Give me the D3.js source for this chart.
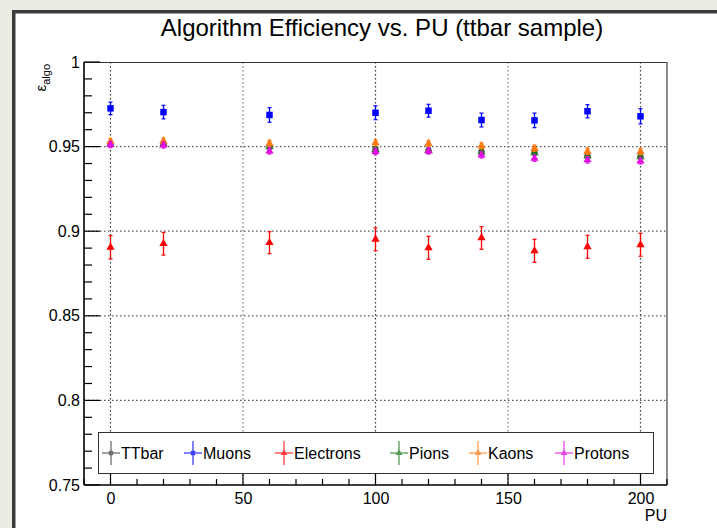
<!DOCTYPE html>
<html>
<head>
<meta charset="utf-8">
<script src="https://cdn.jsdelivr.net/npm/d3@7"></script>
<style>
  body { margin: 0; background: #ffffff; }
  svg { display: block; font-family: "Liberation Sans", Arial, Helvetica, sans-serif; }
</style>
</head>
<body>
<div class="row"></div>
<script>
// Data
var pu = [0, 20, 60, 100, 120, 140, 160, 180, 200];

var ttbar     = [0.9520, 0.9518, 0.9503, 0.9487, 0.9478, 0.9472, 0.9466, 0.9448, 0.9443];
var ttbarErr  = [0.0012, 0.0012, 0.0012, 0.0012, 0.0012, 0.0012, 0.0012, 0.0012, 0.0012];
var muons     = [0.9726, 0.9704, 0.9687, 0.9700, 0.9712, 0.9657, 0.9655, 0.9709, 0.9679];
var muonsErr  = [0.0037, 0.0040, 0.0043, 0.0041, 0.0038, 0.0041, 0.0043, 0.0039, 0.0045];
var electrons    = [0.8905, 0.8926, 0.8932, 0.8952, 0.8902, 0.8960, 0.8884, 0.8908, 0.8920];
var electronsErr = [0.0069, 0.0067, 0.0065, 0.0067, 0.0068, 0.0067, 0.0068, 0.0068, 0.0068];
var pions     = [0.9517, 0.9516, 0.9498, 0.9483, 0.9476, 0.9468, 0.9463, 0.9444, 0.9440];
var pionsErr  = [0.0015, 0.0015, 0.0015, 0.0015, 0.0015, 0.0015, 0.0015, 0.0015, 0.0015];
var kaons     = [0.9530, 0.9533, 0.9519, 0.9522, 0.9518, 0.9504, 0.9490, 0.9472, 0.9470];
var kaonsErr  = [0.0018, 0.0018, 0.0018, 0.0018, 0.0018, 0.0018, 0.0018, 0.0018, 0.0018];
var protons    = [0.9512, 0.9509, 0.9474, 0.9470, 0.9474, 0.9450, 0.9431, 0.9421, 0.9415];
var protonsErr = [0.0018, 0.0018, 0.0018, 0.0018, 0.0018, 0.0018, 0.0018, 0.0018, 0.0018];

var seriesNames = ["TTbar", "Muons", "Electrons", "Pions", "Kaons", "Protons"];
var xTicks = [0, 50, 100, 150, 200];
var yTicks = [0.75, 0.8, 0.85, 0.9, 0.95, 1];

// styles per series (not data)
var styles = {
  TTbar:     { color: "#404040", shape: d3.symbolCircle },
  Muons:     { color: "#0000ff", shape: d3.symbolSquare },
  Electrons: { color: "#ff0000", shape: d3.symbolTriangle },
  Pions:     { color: "#1e7a1e", shape: d3.symbolTriangle },
  Kaons:     { color: "#ff7a12", shape: d3.symbolTriangle },
  Protons:   { color: "#e010e0", shape: d3.symbolTriangle }
};
var legendX = [111, 193, 284, 399, 478, 564];

var series = [
  { name: "TTbar", vals: ttbar, errs: ttbarErr },
  { name: "Muons", vals: muons, errs: muonsErr },
  { name: "Electrons", vals: electrons, errs: electronsErr },
  { name: "Pions", vals: pions, errs: pionsErr },
  { name: "Kaons", vals: kaons, errs: kaonsErr },
  { name: "Protons", vals: protons, errs: protonsErr }
];

var svgWidth = 717;
var svgHeight = 528;
var margin = { top: 62, right: 50, bottom: 43, left: 84 };
var width = 667 - margin.left;
var height = 485 - margin.top;

var svg = d3.select(".row")
  .append("svg")
  .attr("width", svgWidth)
  .attr("height", svgHeight);

// window frame around the canvas
svg.append("rect").attr("x", 0).attr("y", 0).attr("width", svgWidth).attr("height", 10).attr("fill", "#ececE4");
svg.append("rect").attr("x", 0).attr("y", 0).attr("width", 12).attr("height", svgHeight).attr("fill", "#ececE4");
svg.append("rect").attr("x", 12).attr("y", 10).attr("width", svgWidth - 12).attr("height", 3.5).attr("fill", "#3c3c3c");
svg.append("rect").attr("x", 12).attr("y", 10).attr("width", 3.5).attr("height", svgHeight - 10).attr("fill", "#3c3c3c");

var chartGroup = svg.append("g")
  .attr("transform", `translate(${margin.left}, ${margin.top})`);

// Scales
var xLinearScale = d3.scaleLinear().domain([-10, 210]).range([0, width]);
var yLinearScale = d3.scaleLinear().domain([0.75, 1]).range([height, 0]);

// Grid
chartGroup.selectAll(".vgrid")
  .data(xTicks)
  .enter()
  .append("line")
  .attr("x1", d => xLinearScale(d)).attr("x2", d => xLinearScale(d))
  .attr("y1", 0).attr("y2", height)
  .attr("stroke", d => (d % 100 === 0 ? "#333" : "#777")).attr("stroke-width", 1.2)
  .attr("stroke-dasharray", "1.5,2.5");

chartGroup.selectAll(".hgrid")
  .data(yTicks.filter(d => d > 0.75 && d < 1))
  .enter()
  .append("line")
  .attr("x1", 0).attr("x2", width)
  .attr("y1", d => yLinearScale(d)).attr("y2", d => yLinearScale(d))
  .attr("stroke", "#555").attr("stroke-width", 1.2)
  .attr("stroke-dasharray", "1.5,2.5");

// frame top/right
chartGroup.append("line").attr("x1", 0).attr("x2", width).attr("y1", 0.5).attr("y2", 0.5)
  .attr("stroke", "#333").attr("stroke-width", 1);
chartGroup.append("line").attr("x1", width).attr("x2", width).attr("y1", 0).attr("y2", height)
  .attr("stroke", "#666").attr("stroke-width", 1.5);

// Axes
var bottomAxis = d3.axisBottom(xLinearScale).tickValues(xTicks).tickSize(0).tickPadding(8);
var leftAxis = d3.axisLeft(yLinearScale).tickValues(yTicks)
  .tickFormat(d => d3.format("~g")(d)).tickSize(0).tickPadding(4);

var xAxisG = chartGroup.append("g")
  .attr("transform", `translate(0, ${height})`)
  .call(bottomAxis);
xAxisG.select(".domain").remove();
xAxisG.selectAll("text").attr("font-size", 16).attr("fill", "#000")
  .attr("font-family", "Liberation Sans, Arial, sans-serif");

var yAxisG = chartGroup.append("g").call(leftAxis);
yAxisG.select(".domain").remove();
yAxisG.selectAll("text").attr("font-size", 16).attr("fill", "#000")
  .attr("font-family", "Liberation Sans, Arial, sans-serif");

// ticks (inside the frame, ROOT style)
var xMinor = d3.range(-10, 211, 10);
chartGroup.selectAll(".xtick")
  .data(xMinor)
  .enter()
  .append("line")
  .attr("x1", d => xLinearScale(d)).attr("x2", d => xLinearScale(d))
  .attr("y1", height)
  .attr("y2", d => height - (d % 50 === 0 ? 12 : 6))
  .attr("stroke", "#000").attr("stroke-width", 1.2);

var yMinor = d3.range(0, 26).map(i => 0.75 + i * 0.01);
chartGroup.selectAll(".ytick")
  .data(yMinor)
  .enter()
  .append("line")
  .attr("x1", 0)
  .attr("x2", (d, i) => (i % 5 === 0 ? 16 : 8))
  .attr("y1", d => yLinearScale(d)).attr("y2", d => yLinearScale(d))
  .attr("stroke", "#000").attr("stroke-width", 1.2);

chartGroup.append("line").attr("x1", 0).attr("x2", 0).attr("y1", 0).attr("y2", height)
  .attr("stroke", "#000").attr("stroke-width", 1.6);
chartGroup.append("line").attr("x1", 0).attr("x2", width).attr("y1", height).attr("y2", height)
  .attr("stroke", "#000").attr("stroke-width", 1.6);

// Points with error bars
series.forEach(function(s) {
  var st = styles[s.name];
  var pts = pu.map((p, i) => ({ x: p, y: s.vals[i], e: s.errs[i] }));
  var g = chartGroup.append("g");
  g.selectAll(".err")
    .data(pts).enter().append("line")
    .attr("x1", d => xLinearScale(d.x)).attr("x2", d => xLinearScale(d.x))
    .attr("y1", d => yLinearScale(d.y - d.e)).attr("y2", d => yLinearScale(d.y + d.e))
    .attr("stroke", st.color).attr("stroke-width", 1.3);
  g.selectAll(".capLo")
    .data(pts).enter().append("line")
    .attr("x1", d => xLinearScale(d.x) - 2).attr("x2", d => xLinearScale(d.x) + 2)
    .attr("y1", d => yLinearScale(d.y - d.e)).attr("y2", d => yLinearScale(d.y - d.e))
    .attr("stroke", st.color).attr("stroke-width", 1.2);
  g.selectAll(".capHi")
    .data(pts).enter().append("line")
    .attr("x1", d => xLinearScale(d.x) - 2).attr("x2", d => xLinearScale(d.x) + 2)
    .attr("y1", d => yLinearScale(d.y + d.e)).attr("y2", d => yLinearScale(d.y + d.e))
    .attr("stroke", st.color).attr("stroke-width", 1.2);
  g.selectAll("path")
    .data(pts).enter().append("path")
    .attr("d", d3.symbol().type(st.shape).size(st.shape === d3.symbolSquare ? 42 : 30))
    .attr("transform", d => `translate(${xLinearScale(d.x)}, ${yLinearScale(d.y)})`)
    .attr("fill", st.color);
});

// Legend
var legend = svg.append("g");
legend.append("rect")
  .attr("x", 98.5).attr("y", 432.5).attr("width", 555).attr("height", 41)
  .attr("fill", "#fff").attr("stroke", "#333").attr("stroke-width", 1);
seriesNames.forEach(function(name, i) {
  var st = styles[name];
  var cx = legendX[i], cy = 453;
  var e = legend.append("g").attr("opacity", 0.75);
  e.append("line").attr("x1", cx - 9).attr("x2", cx + 9).attr("y1", cy).attr("y2", cy)
    .attr("stroke", st.color).attr("stroke-width", 1.3);
  e.append("line").attr("x1", cx).attr("x2", cx).attr("y1", cy - 12).attr("y2", cy + 12)
    .attr("stroke", st.color).attr("stroke-width", 1.3);
  e.append("path").attr("d", d3.symbol().type(st.shape).size(20))
    .attr("transform", `translate(${cx}, ${cy})`).attr("fill", st.color);
  legend.append("text")
    .attr("x", cx + 10).attr("y", cy + 6)
    .attr("font-size", 16).attr("fill", "#000")
    .text(name);
});

// Title and axis labels
svg.append("text")
  .attr("x", 382).attr("y", 36)
  .attr("text-anchor", "middle")
  .attr("font-size", 24)
  .attr("fill", "#000")
  .text("Algorithm Efficiency vs. PU (ttbar sample)");

svg.append("text")
  .attr("x", 667).attr("y", 521)
  .attr("text-anchor", "end")
  .attr("font-size", 16)
  .text("PU");

var yTitle = svg.append("text")
  .attr("transform", "translate(46, 64) rotate(-90)")
  .attr("text-anchor", "end")
  .attr("font-size", 15);
yTitle.append("tspan").text("ε");
yTitle.append("tspan").attr("font-size", 11).attr("dy", 4).text("algo");
</script>
</body>
</html>
